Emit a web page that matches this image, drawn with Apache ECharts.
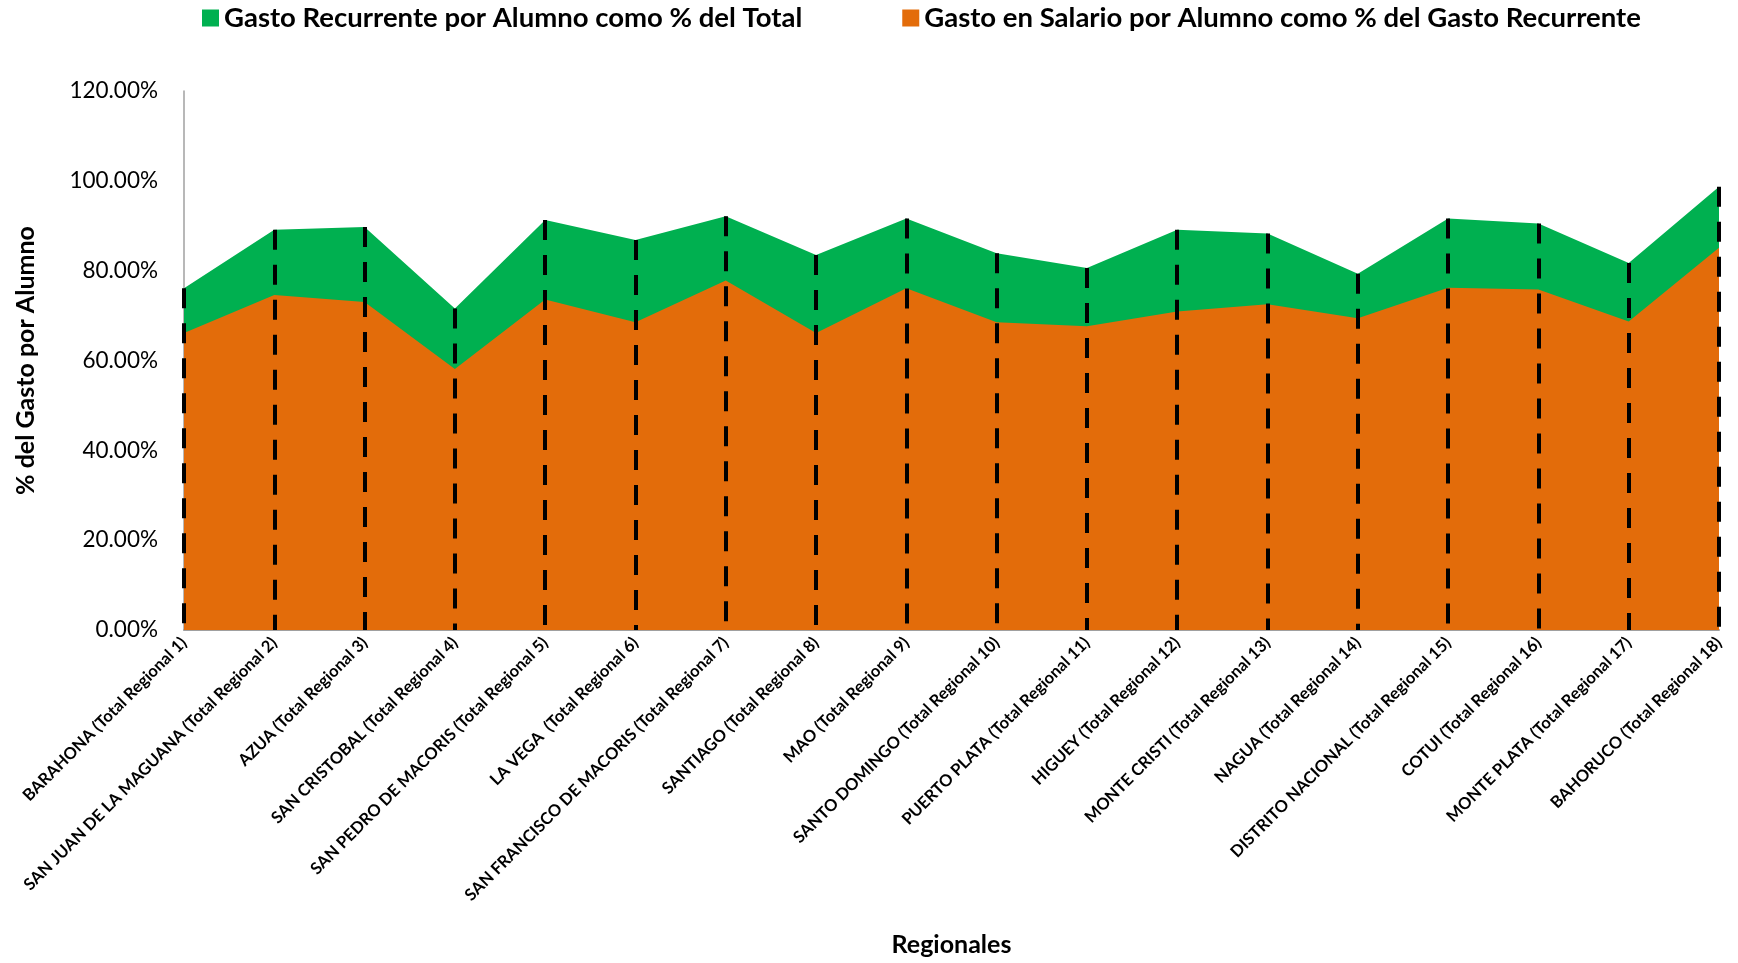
<!DOCTYPE html>
<html>
<head>
<meta charset="utf-8">
<script src="https://cdn.jsdelivr.net/npm/echarts@6/dist/echarts.min.js"></script>
<style>html,body{margin:0;padding:0;background:#fff}#c{width:1738px;height:963px}</style>
</head>
<body>
<div id="c"></div>
<script>
const categories = [
  'BARAHONA (Total Regional 1)',
  'SAN JUAN DE LA MAGUANA (Total Regional 2)',
  'AZUA (Total Regional 3)',
  'SAN CRISTOBAL (Total Regional 4)',
  'SAN PEDRO DE MACORIS (Total Regional 5)',
  'LA VEGA  (Total Regional 6)',
  'SAN FRANCISCO DE MACORIS (Total Regional 7)',
  'SANTIAGO (Total Regional 8)',
  'MAO (Total Regional 9)',
  'SANTO DOMINGO (Total Regional 10)',
  'PUERTO PLATA (Total Regional 11)',
  'HIGUEY (Total Regional 12)',
  'MONTE CRISTI (Total Regional 13)',
  'NAGUA (Total Regional 14)',
  'DISTRITO NACIONAL (Total Regional 15)',
  'COTUI (Total Regional 16)',
  'MONTE PLATA (Total Regional 17)',
  'BAHORUCO (Total Regional 18)'
];
const seriesNames = [
  'Gasto Recurrente por Alumno como % del Total',
  'Gasto en Salario por Alumno como % del Gasto Recurrente'
];
const recurrente = [76.1, 89.1, 89.7, 71.6, 91.3, 86.8, 92.1, 83.5, 91.6, 83.9, 80.6, 89.1, 88.3, 79.3, 91.6, 90.5, 81.7, 98.7];
const salario = [66.1, 74.6, 73.0, 58.1, 73.6, 68.5, 77.8, 66.1, 76.1, 68.5, 67.6, 70.9, 72.5, 69.4, 76.2, 75.8, 68.7, 85.1];
const yTicks = [0, 20, 40, 60, 80, 100, 120];

const FONT = 'Lato, "Open Sans", sans-serif';
const chart = echarts.init(document.getElementById('c'));

const dropLines = categories.map((c, i) => [
  { coord: [i, recurrente[i]] },
  { coord: [i, 0] }
]);

chart.setOption({
  animation: false,
  textStyle: { fontFamily: FONT },
  legend: {
    top: -1,
    left: 197,
    itemWidth: 17,
    itemHeight: 17,
    itemGap: 100,
    icon: 'rect',
    textStyle: { fontFamily: FONT, fontWeight: 'bold', fontSize: 27.5, color: '#000' },
    data: seriesNames
  },
  grid: { left: 184, right: 19, top: 91, bottom: 333, containLabel: false },
  xAxis: {
    type: 'category',
    data: categories,
    boundaryGap: false,
    axisLine: { lineStyle: { color: '#a0a0a0', width: 2 } },
    axisTick: { show: false },
    axisLabel: { rotate: 45, interval: 0, margin: 10, fontFamily: FONT, fontWeight: 'bold', fontSize: 16.5, color: '#000' },
    name: 'Regionales',
    nameLocation: 'middle',
    nameGap: 302,
    nameTextStyle: { fontFamily: FONT, fontWeight: 'bold', fontSize: 25, color: '#000' }
  },
  yAxis: {
    type: 'value',
    min: yTicks[0],
    max: yTicks[yTicks.length - 1],
    interval: yTicks[1] - yTicks[0],
    splitLine: { show: false },
    axisLine: { show: true, lineStyle: { color: '#a0a0a0', width: 1.5 } },
    axisTick: { show: false },
    axisLabel: { formatter: v => v.toFixed(2) + '%', fontFamily: FONT, fontSize: 22.5, color: '#000', margin: 26 },
    name: '% del Gasto por Alumno',
    nameLocation: 'middle',
    nameGap: 146,
    nameTextStyle: { fontFamily: FONT, fontWeight: 'bold', fontSize: 25, color: '#000' }
  },
  series: [
    {
      name: seriesNames[0],
      type: 'line',
      data: recurrente,
      z: 1,
      symbol: 'none',
      lineStyle: { width: 0, color: '#00B050' },
      itemStyle: { color: '#00B050' },
      areaStyle: { color: '#00B050', opacity: 1 }
    },
    {
      name: seriesNames[1],
      type: 'line',
      data: salario,
      z: 2,
      symbol: 'none',
      lineStyle: { width: 0, color: '#E36C0A' },
      itemStyle: { color: '#E36C0A' },
      areaStyle: { color: '#E36C0A', opacity: 1 },
      markLine: {
        silent: true,
        symbol: ['none', 'none'],
        label: { show: false },
        lineStyle: { color: '#000', width: 4, type: [20, 15] },
        data: dropLines
      }
    }
  ]
});
</script>
</body>
</html>
